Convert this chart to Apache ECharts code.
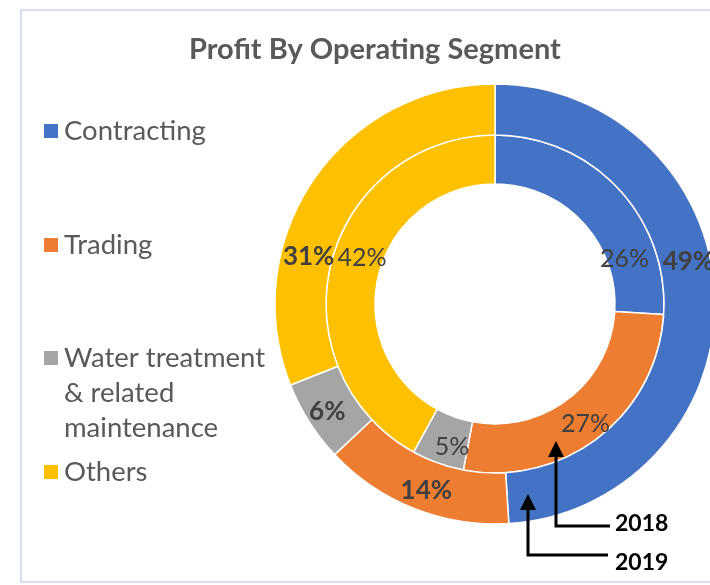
<!DOCTYPE html>
<html>
<head>
<meta charset="utf-8">
<script src="https://cdn.jsdelivr.net/npm/echarts@6/dist/echarts.min.js"></script>
<style>
  html, body { margin: 0; padding: 0; background: #fff; }
  #chart { width: 710px; height: 585px; }
</style>
</head>
<body>
<div id="chart"></div>
<script>
// segments and their share of profit (%)
var segments = ['Contracting', 'Trading', 'Water treatment & related maintenance', 'Others'];
var share2019 = [49, 14, 6, 31];   // outer ring
var share2018 = [26, 27, 5, 42];   // inner ring
var colors = ['#4472C4', '#ED7D31', '#A5A5A5', '#FFC000'];

// label nudges (px) away from the slice middle, as placed in the original
var nudge2019 = [[-4, -36], [4, 3], [-1, 2], [-23, 64]];
var nudge2018 = [[22, 56], [0, 3], [7, 4], [10, -9]];

var FONT = 'Lato';
var cx = 495, cy = 304;

function buildData(values) {
    var out = [];
    for (var i = 0; i < segments.length; i++) {
        out.push({ name: segments[i], value: values[i], itemStyle: { color: colors[i] } });
    }
    return out;
}

// one legend per entry so they can be spread like the original
var legendTops = [113.5, 227.5, 270.5, 454.5];
var legends = segments.map(function(name, i) {
    return {
        data: [name],
        orient: 'vertical',
        left: 42,
        top: legendTops[i],
        padding: 0,
        selectedMode: false,
        icon: 'rect',
        itemWidth: 16,
        itemHeight: 16,
        formatter: function(n) {
            // two blank lines on top keep the marker level with the first line
            return n === segments[2] ? '\n\nWater treatment\n& related\nmaintenance' : n;
        },
        textStyle: {
            fontFamily: FONT,
            fontSize: 27.5,
            color: '#595959',
            lineHeight: 35
        }
    };
});

var option = {
    animation: false,
    backgroundColor: '#fff',
    title: {
        text: 'Profit By Operating Segment',
        left: 189,
        top: 35,
        padding: 0,
        textStyle: { fontFamily: FONT, fontSize: 29, fontWeight: 'bold', color: '#595959' }
    },
    legend: legends,
    series: [
        {
            name: '2018',
            type: 'pie',
            center: [cx, cy],
            radius: [120, 169],
            startAngle: 90,
            clockwise: true,
            avoidLabelOverlap: false,
            itemStyle: { borderColor: '#fff', borderWidth: 1.5 },
            label: {
                position: 'inside',
                formatter: '{c}%',
                fontFamily: FONT,
                fontSize: 25,
                color: '#404040'
            },
            labelLayout: function(p) {
                var o = nudge2018[p.dataIndex];
                return { dx: o[0], dy: o[1] };
            },
            emphasis: { disabled: true },
            data: buildData(share2018)
        },
        {
            name: '2019',
            type: 'pie',
            center: [cx, cy],
            radius: [169, 220],
            startAngle: 90,
            clockwise: true,
            avoidLabelOverlap: false,
            itemStyle: { borderColor: '#fff', borderWidth: 1.5 },
            label: {
                position: 'inside',
                formatter: '{c}%',
                fontFamily: FONT,
                fontSize: 26,
                fontWeight: 'bold',
                color: '#404040'
            },
            labelLayout: function(p) {
                var o = nudge2019[p.dataIndex];
                return { dx: o[0], dy: o[1] };
            },
            emphasis: { disabled: true },
            data: buildData(share2019)
        }
    ],
    graphic: [
        // chart frame
        {
            type: 'rect', z: -10, silent: true,
            shape: { x: 21, y: 10, width: 720, height: 572 },
            style: { fill: 'none', stroke: '#d6dff0', lineWidth: 2 }
        },
        // 2018 pointer
        {
            type: 'polyline', z: 100, silent: true,
            shape: { points: [[556, 454], [556, 526], [610, 526]] },
            style: { stroke: '#000', lineWidth: 3, fill: 'none' }
        },
        {
            type: 'polygon', z: 100, silent: true,
            shape: { points: [[556, 441], [548, 457], [564, 457]] },
            style: { fill: '#000' }
        },
        {
            type: 'text', z: 100, silent: true,
            style: { text: '2018', x: 615, y: 524, verticalAlign: 'middle',
                     font: 'bold 23px ' + FONT, fill: '#000' }
        },
        // 2019 pointer
        {
            type: 'polyline', z: 100, silent: true,
            shape: { points: [[528, 507], [528, 555], [608, 555]] },
            style: { stroke: '#000', lineWidth: 3, fill: 'none' }
        },
        {
            type: 'polygon', z: 100, silent: true,
            shape: { points: [[528, 494], [520, 510], [536, 510]] },
            style: { fill: '#000' }
        },
        {
            type: 'text', z: 100, silent: true,
            style: { text: '2019', x: 615, y: 563, verticalAlign: 'middle',
                     font: 'bold 23px ' + FONT, fill: '#000' }
        }
    ]
};

var myChart = echarts.init(document.getElementById('chart'));
myChart.setOption(option);
</script>
</body>
</html>
